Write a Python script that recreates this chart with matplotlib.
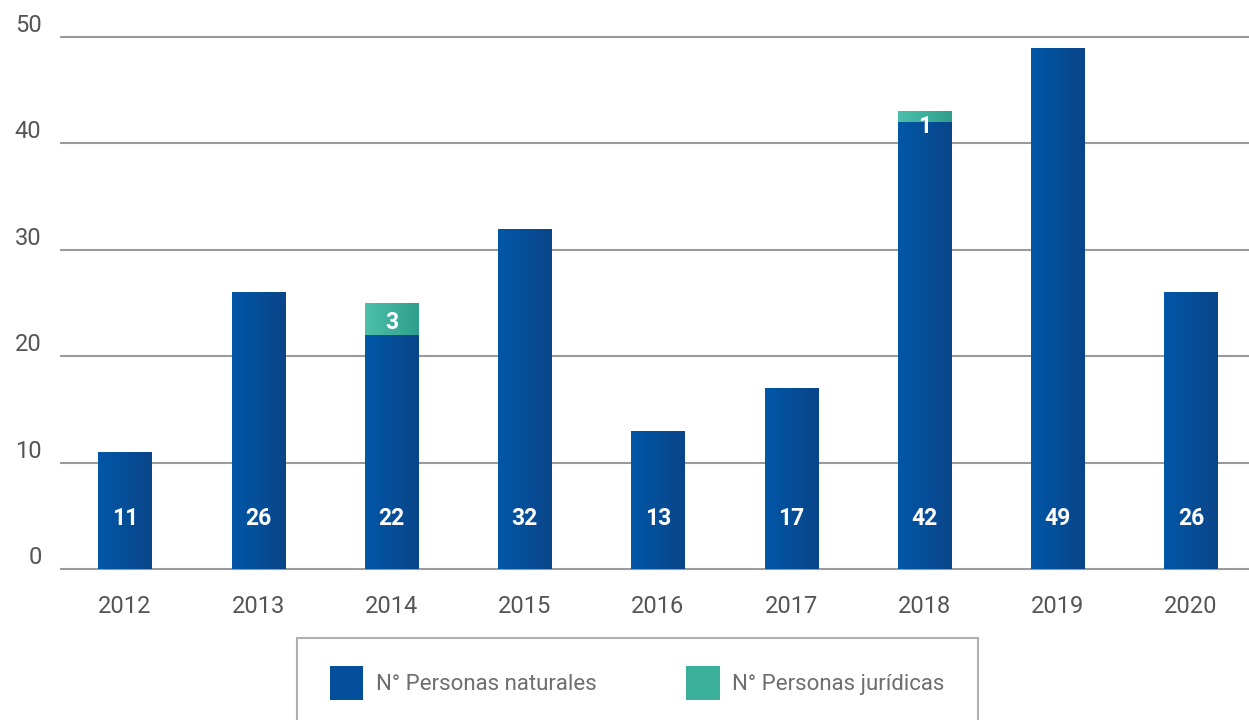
import matplotlib
matplotlib.use("Agg")
import matplotlib.pyplot as plt
import numpy as np
from matplotlib.colors import LinearSegmentedColormap
from matplotlib.patches import Rectangle, Patch

years = ["2012", "2013", "2014", "2015", "2016", "2017", "2018", "2019", "2020"]
naturales = [11, 26, 22, 32, 13, 17, 42, 49, 26]
juridicas = [0, 0, 3, 0, 0, 0, 1, 0, 0]
yticks = [0, 10, 20, 30, 40, 50]
legend_labels = ["N° Personas naturales", "N° Personas jurídicas"]

plt.rcParams['font.family'] = ['Roboto', 'DejaVu Sans']

fig = plt.figure(figsize=(12.49, 7.2), dpi=100)
ax = fig.add_axes([61/1249, 151/720, 1 - 61/1249, (569-37)/720])

blue_cmap = LinearSegmentedColormap.from_list("b", ["#0157a7", "#0a4589"])
green_cmap = LinearSegmentedColormap.from_list("g", ["#4cc0aa", "#2f9f8d"])
grad = np.linspace(0, 1, 64).reshape(1, -1)

x = np.arange(len(years))
w = 0.4
bars_n = ax.bar(x, naturales, width=w, color="#044f9c", zorder=3)
bars_j = ax.bar(x, juridicas, width=w, bottom=naturales, color="#3aaf9b", zorder=3)

for bars, cmap in ((bars_n, blue_cmap), (bars_j, green_cmap)):
    for b in bars:
        if b.get_height() <= 0:
            continue
        x0, y0 = b.get_x(), b.get_y()
        im = ax.imshow(grad, cmap=cmap, aspect='auto', zorder=4,
                       extent=(x0, x0 + b.get_width(), y0, y0 + b.get_height()))
        im.set_clip_path(b)

for i, (n, j) in enumerate(zip(naturales, juridicas)):
    ax.text(x[i], 4.7, str(n), ha='center', va='center', color='white',
            fontsize=16.5, fontweight='bold', zorder=6)
    if j > 0:
        ax.text(x[i], n + j / 2 - (0.3 if j > 1 else 0.9), str(j), ha='center', va='center',
                color='white', fontsize=16.5, fontweight='bold', zorder=6)

ax.set_xlim(-0.48, 8.435)
ax.set_ylim(0, 50)
ax.set_yticks(yticks)
ax.set_xticks(x)
ax.set_xticklabels(years)
ax.yaxis.grid(True, color="#9a9a9a", linewidth=1.5, zorder=0)
ax.set_axisbelow(True)
for s in ax.spines.values():
    s.set_visible(False)
ax.tick_params(axis='both', length=0, labelsize=17, labelcolor="#555555")
ax.tick_params(axis='x', pad=19)
ax.tick_params(axis='y', pad=14)
for lab in ax.get_yticklabels():
    lab.set_verticalalignment('bottom')
for gl in ax.get_ygridlines():
    gl.set_clip_on(False)

# legend box
fig.patches.append(Rectangle((297/1249, -0.05), (978-297)/1249, (720-638)/720 + 0.05,
                             transform=fig.transFigure, fill=False,
                             edgecolor="#b0b0b0", linewidth=1.5))
handles = [Patch(facecolor="#044f9c"), Patch(facecolor="#3aaf9b")]
fig.legend(handles, legend_labels, loc='center left',
           bbox_to_anchor=(319/1249, 1 - 683/720), ncol=2, frameon=False,
           fontsize=16, labelcolor="#6d6e71", handlelength=1.5, handleheight=1.93,
           handletextpad=0.55, columnspacing=4.05, borderpad=0)

fig.savefig("out.png", dpi=100)
